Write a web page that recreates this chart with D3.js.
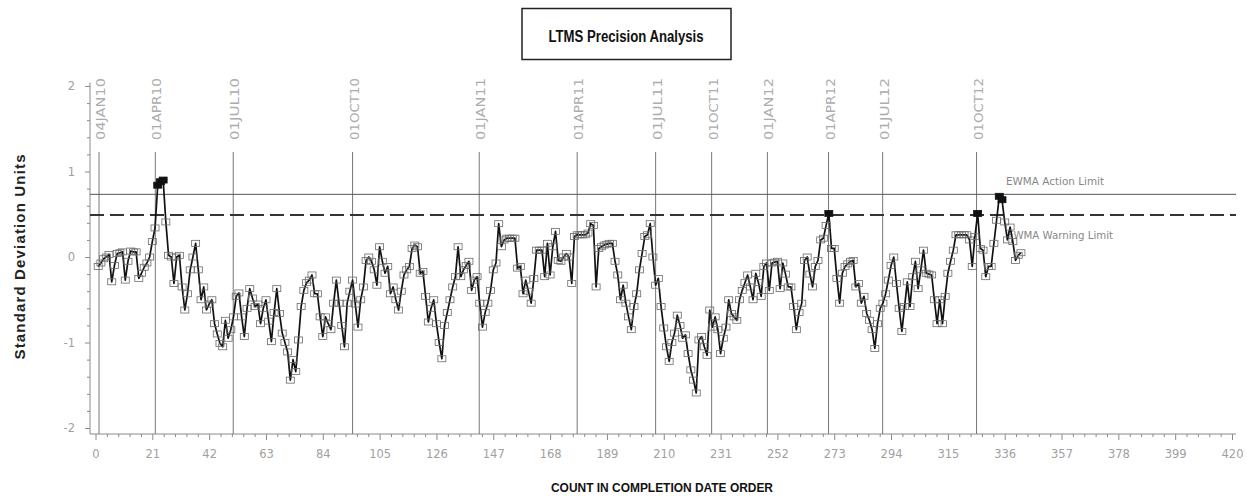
<!DOCTYPE html>
<html>
<head>
<meta charset="utf-8">
<script src="https://cdn.jsdelivr.net/npm/d3@7"></script>
<style>
  html, body { margin: 0; padding: 0; background: #fff; }
  svg { display: block; }
</style>
</head>
<body>
<svg id="chart" width="1247" height="498"></svg>
<script>
// ---------------- data ----------------
const title = "LTMS Precision Analysis";
const yLabel = "Standard Deviation Units";
const xLabel = "COUNT IN COMPLETION DATE ORDER";

const xTickValues = [0, 21, 42, 63, 84, 105, 126, 147, 168, 189, 210, 231, 252, 273, 294, 315, 336, 357, 378, 399, 420];
const xTickLabels = ["0", "21", "42", "63", "84", "105", "126", "147", "168", "189", "210", "231", "252", "273", "294", "315", "336", "357", "378", "399", "420"];
const yTickValues = [-2, -1, 0, 1, 2];
const yTickLabels = ["-2", "-1", "0", "1", "2"];

const dateLabels = ["04JAN10", "01APR10", "01JUL10", "01OCT10", "01JAN11", "01APR11", "01JUL11", "01OCT11", "01JAN12", "01APR12", "01JUL12", "01OCT12"];
const dateCounts = [1.3, 22.1, 50.9, 95, 141.8, 178, 207, 227.7, 248.3, 270.9, 290.9, 325.6];

const actionLimit = 0.733;
const warningLimit = 0.49;
const limitLabels = ["EWMA Action Limit", "EWMA Warning Limit"];

// EWMA values, count 1..342
const ewma = [
  -0.11, -0.07, -0.02, 0.0, 0.03, -0.29, -0.1, 0.04, 0.05, 0.06,
  -0.27, -0.05, 0.07, 0.06, 0.06, -0.25, -0.19, -0.12, -0.07, 0.0,
  0.18, 0.34, 0.84, 0.88, 0.9, 0.41, 0.02, 0.0, -0.31, 0.0,
  0.02, -0.35, -0.62, -0.43, -0.15, 0.0, 0.16, -0.15, -0.5, -0.35,
  -0.62, -0.55, -0.5, -0.78, -0.9, -1.01, -1.05, -0.74, -0.95, -0.85,
  -0.7, -0.46, -0.42, -0.7, -0.93, -0.6, -0.37, -0.48, -0.58, -0.55,
  -0.78, -0.6, -0.5, -0.75, -0.99, -0.65, -0.37, -0.66, -0.89, -1.0,
  -1.11, -1.44, -1.2, -1.34, -0.97, -0.58, -0.39, -0.3, -0.27, -0.21,
  -0.43, -0.43, -0.7, -0.93, -0.7, -0.78, -0.85, -0.54, -0.27, -0.54,
  -0.8, -1.05, -0.54, -0.4, -0.27, -0.55, -0.82, -0.5, -0.35, -0.04,
  0.0, -0.05, -0.15, -0.33, 0.12, -0.05, -0.19, -0.11, -0.43, -0.35,
  -0.5, -0.62, -0.4, -0.21, -0.15, -0.11, 0.1, 0.14, 0.12, -0.19,
  -0.17, -0.46, -0.76, -0.6, -0.5, -0.78, -1.0, -1.19, -0.8, -0.65,
  -0.5, -0.35, -0.23, 0.12, -0.23, -0.15, -0.1, -0.05, -0.39, -0.27,
  -0.23, -0.54, -0.82, -0.65, -0.54, -0.39, -0.15, -0.07, 0.39, 0.12,
  0.2, 0.22, 0.22, 0.22, 0.22, -0.13, -0.11, -0.43, -0.27, -0.4,
  -0.54, -0.25, 0.08, 0.08, 0.08, -0.23, 0.16, -0.21, 0.12, 0.3,
  -0.04, -0.05, 0.0, 0.04, 0.0, -0.31, 0.24, 0.26, 0.26, 0.26,
  0.26, 0.28, 0.39, 0.37, -0.35, 0.1, 0.12, 0.14, 0.15, 0.16,
  0.16, -0.05, -0.21, -0.5, -0.33, -0.54, -0.7, -0.85, -0.58, -0.43,
  -0.15, 0.04, 0.24, 0.26, 0.39, 0.0, -0.33, -0.25, -0.58, -0.83,
  -1.05, -1.22, -1.0, -0.89, -0.68, -0.8, -0.95, -0.91, -1.13, -1.32,
  -1.44, -1.59, -0.97, -0.93, -1.05, -1.15, -0.62, -0.82, -0.7, -0.85,
  -1.13, -0.95, -0.82, -0.5, -0.66, -0.7, -0.74, -0.5, -0.39, -0.3,
  -0.21, -0.35, -0.5, -0.19, -0.3, -0.46, -0.11, -0.07, -0.39, -0.07,
  -0.06, -0.05, -0.37, -0.07, -0.2, -0.35, -0.35, -0.58, -0.85, -0.65,
  -0.54, -0.04, 0.0, -0.2, -0.35, -0.11, -0.04, 0.2, 0.22, 0.37,
  0.51, 0.1, 0.1, -0.25, -0.54, -0.19, -0.11, -0.08, -0.05, -0.04,
  -0.35, -0.31, -0.54, -0.46, -0.66, -0.74, -0.85, -1.07, -0.78, -0.6,
  -0.54, -0.43, -0.27, -0.1, 0.0, -0.31, -0.6, -0.87, -0.58, -0.29,
  -0.58, -0.23, -0.05, -0.37, -0.15, 0.08, -0.19, -0.2, -0.21, -0.5,
  -0.78, -0.5, -0.78, -0.46, -0.19, -0.05, 0.08, 0.26, 0.26, 0.26,
  0.26, 0.26, 0.2, -0.11, 0.24, 0.51, 0.1, 0.08, -0.23, -0.11,
  -0.11, 0.16, 0.43, 0.71, 0.67, 0.41, 0.2, 0.35, 0.18, -0.04,
  0.02, 0.05
];

// ---------------- drawing ----------------
const svg = d3.select("#chart");
const x = d3.scaleLinear().domain([0, 420]).range([95.5, 1232]);
const y = d3.scaleLinear().domain([-2.07, 2]).range([434, 86]);
const points = ewma.map((v, i) => ({ count: i + 1, value: v }));

const gray = "#a0a0a0";
const axisGray = "#8a8a8a";

// title box
svg.append("rect").attr("x", 522).attr("y", 8.5).attr("width", 209).attr("height", 51)
  .attr("fill", "none").attr("stroke", "#222").attr("stroke-width", 1.5);
svg.append("text").attr("x", 626).attr("y", 42).attr("text-anchor", "middle")
  .attr("font-family", "Liberation Sans, Arial, sans-serif").attr("font-weight", "bold")
  .attr("font-size", 16).attr("textLength", 155).attr("lengthAdjust", "spacingAndGlyphs")
  .attr("fill", "#111").text(title);

// y label
svg.append("text").attr("transform", "translate(25,257) rotate(-90)").attr("text-anchor", "middle")
  .attr("font-family", "Liberation Sans, Arial, sans-serif").attr("font-weight", "bold")
  .attr("font-size", 15).attr("textLength", 205).attr("lengthAdjust", "spacing")
  .attr("fill", "#222").text(yLabel);

// x label
svg.append("text").attr("x", 662).attr("y", 492).attr("text-anchor", "middle")
  .attr("font-family", "Liberation Sans, Arial, sans-serif").attr("font-weight", "bold")
  .attr("font-size", 13).attr("textLength", 222).attr("lengthAdjust", "spacingAndGlyphs")
  .attr("fill", "#111").text(xLabel);

// x axis
const xMinor = d3.range(0, 420.01, 4.2).filter(v => Math.abs(v / 21 - Math.round(v / 21)) > 1e-6);
const gxMinor = svg.append("g").attr("transform", "translate(0,434)")
  .call(d3.axisBottom(x).tickValues(xMinor).tickSize(3).tickFormat(""));
gxMinor.select(".domain").remove();
gxMinor.selectAll("line").attr("stroke", axisGray);
const gx = svg.append("g").attr("transform", "translate(0,434)")
  .call(d3.axisBottom(x).tickValues(xTickValues).tickSize(6).tickPadding(10)
    .tickFormat((d, i) => xTickLabels[i]));
gx.select(".domain").remove();
gx.selectAll("line").attr("stroke", axisGray);
gx.selectAll("text").attr("fill", gray).attr("font-size", 11.5)
  .attr("font-family", "DejaVu Sans, sans-serif");
svg.append("line").attr("x1", x(-2)).attr("x2", x(421.5)).attr("y1", 434).attr("y2", 434)
  .attr("stroke", axisGray).attr("stroke-width", 1);

// y axis
const yMinor = d3.range(-2, 2.001, 0.2).filter(v => Math.abs(v - Math.round(v)) > 1e-6);
const gyMinor = svg.append("g").attr("transform", "translate(90,0)")
  .call(d3.axisLeft(y).tickValues(yMinor).tickSize(3).tickFormat(""));
gyMinor.select(".domain").remove();
gyMinor.selectAll("line").attr("stroke", axisGray);
const gy = svg.append("g").attr("transform", "translate(90,0)")
  .call(d3.axisLeft(y).tickValues(yTickValues).tickSize(5).tickPadding(10)
    .tickFormat((d, i) => yTickLabels[i]));
gy.select(".domain").remove();
gy.selectAll("line").attr("stroke", axisGray);
gy.selectAll("text").attr("fill", gray).attr("font-size", 11.5)
  .attr("font-family", "DejaVu Sans, sans-serif");
svg.append("line").attr("x1", 90).attr("x2", 90).attr("y1", y(2.04)).attr("y2", 434)
  .attr("stroke", axisGray).attr("stroke-width", 1);

// date reference lines
const dates = dateLabels.map((d, i) => ({ label: d, count: dateCounts[i] }));
svg.append("g").selectAll("line").data(dates).join("line")
  .attr("x1", d => x(d.count)).attr("x2", d => x(d.count))
  .attr("y1", 152).attr("y2", 434)
  .attr("stroke", "#777").attr("stroke-width", 1);
svg.append("g").selectAll("text").data(dates).join("text")
  .attr("transform", d => `translate(${x(d.count) + 6},140) rotate(-90)`)
  .attr("text-anchor", "start")
  .attr("font-family", "DejaVu Sans, sans-serif").attr("font-size", 12)
  .attr("textLength", 62).attr("lengthAdjust", "spacingAndGlyphs")
  .attr("fill", "#acacac").text(d => d.label);

// limit lines
svg.append("line").attr("x1", 90).attr("x2", 1236).attr("y1", y(actionLimit)).attr("y2", y(actionLimit))
  .attr("stroke", "#555").attr("stroke-width", 1);
svg.append("line").attr("x1", 90).attr("x2", 1236).attr("y1", y(warningLimit)).attr("y2", y(warningLimit))
  .attr("stroke", "#333").attr("stroke-width", 2).attr("stroke-dasharray", "14,6");
svg.append("text").attr("x", 1006).attr("y", y(actionLimit) - 9)
  .attr("font-family", "DejaVu Sans, sans-serif").attr("font-size", 11)
  .attr("textLength", 98).attr("lengthAdjust", "spacingAndGlyphs")
  .attr("fill", "#888").text(limitLabels[0]);
svg.append("text").attr("x", 1007).attr("y", y(warningLimit) + 24)
  .attr("font-family", "DejaVu Sans, sans-serif").attr("font-size", 11)
  .attr("textLength", 106).attr("lengthAdjust", "spacingAndGlyphs")
  .attr("fill", "#888").text(limitLabels[1]);

// series line
svg.append("path").datum(points)
  .attr("d", d3.line().x(d => x(d.count)).y(d => y(d.value)))
  .attr("fill", "none").attr("stroke", "#111").attr("stroke-width", 1.7)
  .attr("stroke-linejoin", "round");

// markers
svg.append("g").selectAll("rect").data(points).join("rect")
  .attr("x", d => x(d.count) - 4).attr("y", d => y(d.value) - 3)
  .attr("width", 8).attr("height", 6)
  .attr("fill", d => d.value >= warningLimit ? "#111" : "none")
  .attr("stroke", d => d.value >= warningLimit ? "#111" : "#6a6a6a")
  .attr("stroke-width", 0.8);
</script>
</body>
</html>
